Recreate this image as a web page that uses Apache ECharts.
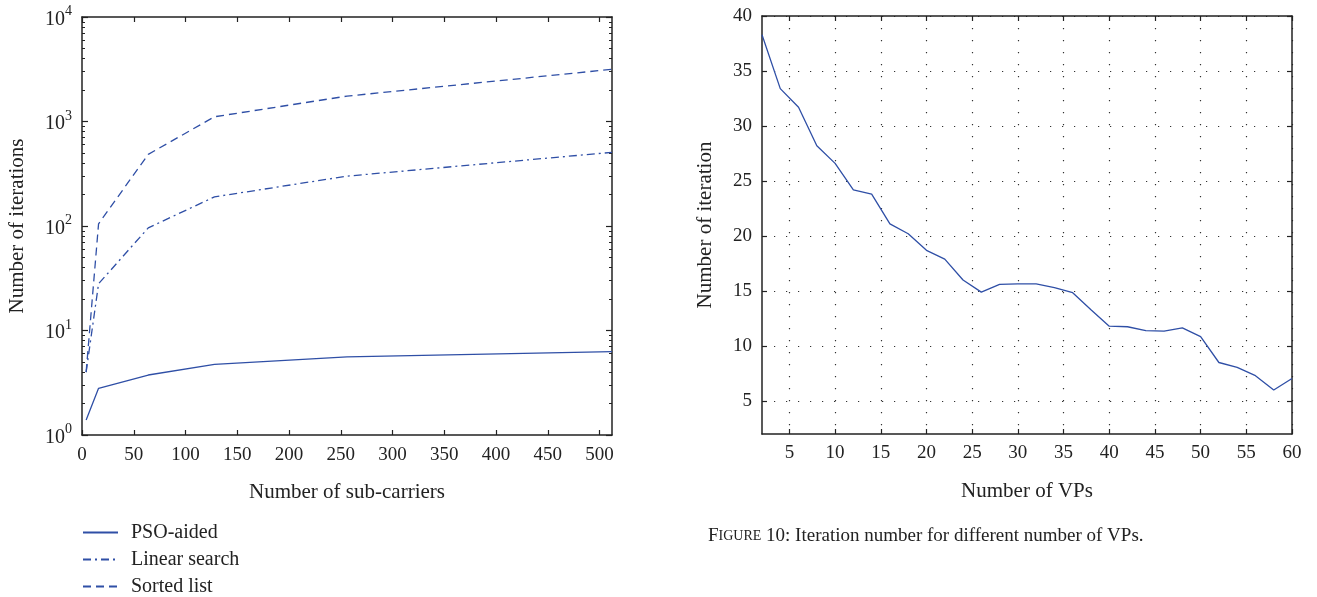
<!DOCTYPE html>
<html>
<head>
<meta charset="utf-8">
<script src="https://cdn.jsdelivr.net/npm/echarts@6/dist/echarts.min.js"></script>
<style>
html,body{margin:0;padding:0;background:#fff;}
#c{width:1317px;height:597px;}
</style>
</head>
<body>
<div id="c"></div>
<script>
// ---- Left chart data ----
const subCarriers = [4, 16, 64, 128, 256, 512];
const psoAided = [1.39, 2.8, 3.75, 4.75, 5.6, 6.27];
const linearSearch = [4.0, 28, 96, 190, 300, 507];
const sortedList = [4.0, 105, 485, 1110, 1750, 3160];
const leftXTicks = [0, 50, 100, 150, 200, 250, 300, 350, 400, 450, 500];
const leftYMinorTicks = [2,3,4,5,6,7,8,9,20,30,40,50,60,70,80,90,200,300,400,500,600,700,800,900,2000,3000,4000,5000,6000,7000,8000,9000];

// ---- Right chart data ----
const vps = [2,4,6,8,10,12,14,16,18,20,22,24,26,28,30,32,34,36,38,40,42,44,46,48,50,52,54,56,58,60];
const iterations = [38.3,33.4,31.7,28.2,26.6,24.2,23.8,21.1,20.2,18.7,17.9,16.0,14.9,15.6,15.65,15.65,15.3,14.85,13.3,11.8,11.75,11.4,11.35,11.65,10.85,8.5,8.05,7.3,6.0,7.05];
const rightXTicks = [5,10,15,20,25,30,35,40,45,50,55,60];
const rightYTicks = [5,10,15,20,25,30,35,40];

const FONT = '"Liberation Serif", "DejaVu Serif", serif';
const AX = '#222';
const LINE = '#2f4fa6';
const TICKFS = 19;
const NAMEFS = 21;

const axLine = {show: true, lineStyle: {color: AX, width: 1.5}};
const baseLabel = {fontFamily: FONT, fontSize: TICKFS, color: '#222'};
const nameStyle = {fontFamily: FONT, fontSize: NAMEFS, color: '#222'};
const gridDots = {show: true, lineStyle: {color: '#333', width: 1.2, type: [1.2, 10.8]}};

function pair(xs, ys) { return xs.map((x, i) => [x, ys[i]]); }

const supFmt = v => {
  const e = Math.round(Math.log10(v));
  return '{b|10}{s|' + e + '}';
};

const option = {
  animation: false,
  backgroundColor: '#fff',
  grid: [
    {left: 82, top: 17, right: 705, bottom: 162},
    {left: 762, top: 16, right: 25, bottom: 163}
  ],
  legend: {
    data: ['PSO-aided', 'Linear search', 'Sorted list'],
    orient: 'vertical',
    left: 82, top: 522, height: 110, padding: 0,
    itemWidth: 35, itemHeight: 14, itemGap: 6,
    itemStyle: {color: 'rgba(0,0,0,0)', borderWidth: 0, opacity: 0},
    textStyle: {fontFamily: FONT, fontSize: 20, lineHeight: 21, color: '#222', padding: [0,0,0,8]}
  },
  xAxis: [
    {gridIndex: 0, type: 'value', min: 0, max: 512, position: 'bottom',
     axisLine: axLine,
     axisTick: {show: true, inside: true, length: 5, customValues: leftXTicks, lineStyle: {color: AX, width: 1.2}},
     axisLabel: Object.assign({margin: 11, customValues: leftXTicks}, baseLabel),
     splitLine: {show: false},
     name: 'Number of sub-carriers', nameLocation: 'middle', nameGap: 47,
     nameTextStyle: nameStyle},
    {gridIndex: 0, type: 'value', min: 0, max: 512, position: 'top',
     axisLine: axLine,
     axisTick: {show: true, inside: true, length: 5, customValues: leftXTicks, lineStyle: {color: AX, width: 1.2}},
     axisLabel: {show: false}, splitLine: {show: false}},
    {gridIndex: 1, type: 'value', min: 2, max: 60, position: 'bottom',
     axisLine: axLine,
     axisTick: {show: true, inside: true, length: 5, customValues: rightXTicks, lineStyle: {color: AX, width: 1.2}},
     axisLabel: Object.assign({margin: 10, customValues: rightXTicks}, baseLabel),
     splitLine: gridDots,
     name: 'Number of VPs', nameLocation: 'middle', nameGap: 47,
     nameTextStyle: nameStyle},
    {gridIndex: 1, type: 'value', min: 2, max: 60, position: 'top',
     axisLine: axLine,
     axisTick: {show: true, inside: true, length: 5, customValues: rightXTicks, lineStyle: {color: AX, width: 1.2}},
     axisLabel: {show: false}, splitLine: {show: false}}
  ],
  yAxis: [
    {gridIndex: 0, type: 'log', logBase: 10, min: 1, max: 10000, position: 'left',
     axisLine: axLine,
     axisTick: {show: true, inside: true, length: 6, lineStyle: {color: AX, width: 1.2}},
     axisLabel: {margin: 10, formatter: supFmt,
       rich: {b: {fontFamily: FONT, fontSize: 20, color: '#222', verticalAlign: 'bottom'},
              s: {fontFamily: FONT, fontSize: 14, color: '#222', verticalAlign: 'top', padding: [0,0,11,0]}}},
     splitLine: {show: false},
     name: 'Number of iterations', nameLocation: 'middle', nameGap: 54,
     nameTextStyle: nameStyle},
    {gridIndex: 0, type: 'log', logBase: 10, min: 1, max: 10000, position: 'left',
     axisLine: {show: false},
     axisTick: {show: true, inside: true, length: 3, customValues: leftYMinorTicks, lineStyle: {color: AX, width: 1}},
     axisLabel: {show: false}, splitLine: {show: false}},
    {gridIndex: 0, type: 'log', logBase: 10, min: 1, max: 10000, position: 'right',
     axisLine: axLine,
     axisTick: {show: true, inside: true, length: 6, lineStyle: {color: AX, width: 1.2}},
     axisLabel: {show: false}, splitLine: {show: false}},
    {gridIndex: 0, type: 'log', logBase: 10, min: 1, max: 10000, position: 'right',
     axisLine: {show: false},
     axisTick: {show: true, inside: true, length: 3, customValues: leftYMinorTicks, lineStyle: {color: AX, width: 1}},
     axisLabel: {show: false}, splitLine: {show: false}},
    {gridIndex: 1, type: 'value', min: 2, max: 40, position: 'left',
     axisLine: axLine,
     axisTick: {show: true, inside: true, length: 5, customValues: rightYTicks, lineStyle: {color: AX, width: 1.2}},
     axisLabel: Object.assign({margin: 10, customValues: rightYTicks}, baseLabel),
     splitLine: gridDots,
     name: 'Number of iteration', nameLocation: 'middle', nameGap: 46,
     nameTextStyle: nameStyle},
    {gridIndex: 1, type: 'value', min: 2, max: 40, position: 'right',
     axisLine: axLine,
     axisTick: {show: true, inside: true, length: 5, customValues: rightYTicks, lineStyle: {color: AX, width: 1.2}},
     axisLabel: {show: false}, splitLine: {show: false}}
  ],
  series: [
    {name: 'PSO-aided', type: 'line', xAxisIndex: 0, yAxisIndex: 0, data: pair(subCarriers, psoAided),
     symbol: 'none', lineStyle: {color: LINE, width: 1.3, type: 'solid'}, itemStyle: {color: LINE}},
    {name: 'Linear search', type: 'line', xAxisIndex: 0, yAxisIndex: 0, data: pair(subCarriers, linearSearch),
     symbol: 'none', lineStyle: {color: LINE, width: 1.3, type: [8, 4, 2, 4]}, itemStyle: {color: LINE}},
    {name: 'Sorted list', type: 'line', xAxisIndex: 0, yAxisIndex: 0, data: pair(subCarriers, sortedList),
     symbol: 'none', lineStyle: {color: LINE, width: 1.3, type: [8, 5]}, itemStyle: {color: LINE}},
    {name: 'Iterations', type: 'line', xAxisIndex: 2, yAxisIndex: 4, data: pair(vps, iterations),
     symbol: 'none', lineStyle: {color: LINE, width: 1.3}, itemStyle: {color: LINE}}
  ],
  graphic: [
    {type: 'text', left: 708, top: 527,
     style: {rich: {
       big: {fontFamily: FONT, fontSize: 19, fill: '#222'},
       sm: {fontFamily: FONT, fontSize: 14, fill: '#222'}
     }, text: '{big|F}{sm|IGURE}{big| 10: Iteration number for different number of VPs.}'}}
  ]
};

const chart = echarts.init(document.getElementById('c'), null, {renderer: 'canvas'});
chart.setOption(option);
</script>
</body>
</html>
